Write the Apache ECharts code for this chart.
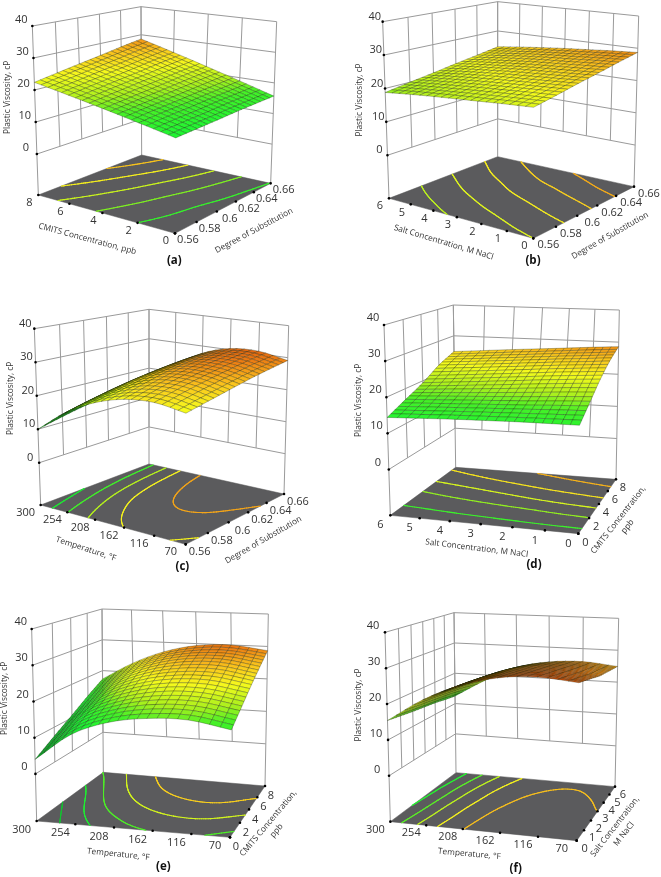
<!DOCTYPE html>
<html><head><meta charset="utf-8"><style>html,body{margin:0;padding:0;background:#fff}#c{width:661px;height:877px}</style>
<script src="https://cdn.jsdelivr.net/npm/echarts@6/dist/echarts.min.js"></script></head>
<body><div id="c"></div><script>
// ---------- tick labels ----------
const degreeTicks = ['0.56','0.58','0.6','0.62','0.64','0.66'];
const cmitsTicks = ['0','2','4','6','8'];
const saltTicks = ['0','1','2','3','4','5','6'];
const tempTicks = ['70','116','162','208','254','300'];
const viscosityTicks = [0,10,20,30,40];
// ---------- surface heights (cP) read at the axis tick crossings; row = left-hand axis, column = right-hand axis ----------
const surfaceA = [
 [13.6,14.0,14.4,14.9,15.3,15.7],
 [15.8,16.5,17.0,17.7,18.3,18.9],
 [18.0,18.8,19.6,20.4,21.3,22.1],
 [20.2,21.2,22.2,23.2,24.3,25.3],
 [22.4,23.6,24.8,26.0,27.3,28.5]];
const surfaceB = [
 [22.0,23.3,24.7,26.0,27.4,28.7],
 [21.6,22.9,24.2,25.5,26.9,28.2],
 [21.1,22.4,23.7,25.0,26.3,27.6],
 [20.6,21.9,23.2,24.5,25.8,27.0],
 [20.1,21.3,22.6,23.8,25.1,26.3],
 [19.5,20.7,21.9,23.1,24.3,25.5],
 [18.8,20.0,21.1,22.3,23.4,24.6]];
const surfaceC = [
 [22.6,24.0,25.4,26.8,28.0,29.1],
 [24.0,25.8,27.3,28.6,29.8,30.8],
 [23.4,25.4,27.2,28.6,29.6,30.4],
 [20.9,22.8,24.6,25.9,26.9,27.6],
 [16.5,18.2,19.7,20.8,21.5,22.0],
 [10.0,11.7,13.2,14.3,15.0,15.5]];
const surfaceD = [
 [15.0,18.8,22.7,26.0,28.6],
 [15.0,18.5,22.3,25.5,28.1],
 [15.0,18.1,21.8,25.0,27.5],
 [14.9,17.8,21.2,24.4,26.9],
 [14.8,17.5,20.6,23.8,26.3],
 [14.6,17.2,20.0,23.2,25.6],
 [14.4,16.9,19.4,22.6,24.9]];
const surfaceE = [
 [15.8,19.4,22.9,25.9,28.7],
 [17.7,21.2,24.7,27.6,30.0],
 [17.4,21.0,24.4,27.2,29.4],
 [15.6,19.0,22.3,25.0,27.0],
 [11.6,15.0,18.0,20.7,22.9],
 [4.0,7.5,10.8,14.2,17.3]];
const surfaceF = [
 [29.1,28.2,27.3,26.4,25.9,25.4,24.9],
 [30.0,29.3,28.6,27.9,27.2,26.5,25.9],
 [29.1,28.5,27.9,27.3,26.7,26.0,25.3],
 [26.3,25.9,25.5,25.0,24.5,23.8,23.0],
 [21.8,21.3,20.9,20.4,19.9,19.2,18.3],
 [15.4,14.9,14.4,14.0,13.6,13.0,12.5]];
// ---------- contour levels on the floor (cP) ----------
const contoursA = [15.8,18.4,21,23.6,26.2];
const contoursB = [20.4,22,23.8,25.6,27.3];
const contoursC = [13,16.6,20,23.4,27.6];
const contoursD = [16.2,18.9,21.6,24.3,27];
const contoursE = [8.8,13.5,17.2,21.4,25.6];
const contoursF = [14.5,17.5,20.4,23.4,26.4];

// ---------- layout: coordinates of the box corners, measured on 3x crops ----------
const FONT = '"Open Sans","Noto Sans",sans-serif';
const panels = [
 {tag:'(a)',tagAt:[523,783],org:[0,0],table:surfaceA,levels:contoursA,uTicks:cmitsTicks,vTicks:degreeTicks,
  F:[525,700],L:[115,585],B:[425,465],R:[812,550],Lt:[97,78],Bt:[423,20],Rt:[830,65],zf:-12.8,tint:0,
  uOff:[-9,8],vOff:[13,7],zOff:[-11,-6],
  titles:[['Plastic Viscosity, cP',22,292,90],['CMITS Concentration, ppb',262,717,-15],['Degree of Substitution',762,692,28]]},
 {tag:'(b)',tagAt:[609,783],org:[330,0],table:surfaceB,levels:contoursB,uTicks:saltTicks,vTicks:degreeTicks,
  F:[610,715],L:[177,595],B:[503,470],R:[912,560],Lt:[158,65],Bt:[503,5],Rt:[926,48],zf:-12.9,tint:0,
  uOff:[-9,8],vOff:[15,7],zOff:[-8,-5],
  titles:[['Plastic Viscosity, cP',88,300,90],['Salt Concentration, M NaCl',341,727,-16.8],['Degree of Substitution',840,707,29.6]]},
 {tag:'(c)',tagAt:[547,815],org:[0,295],table:surfaceC,levels:contoursC,uTicks:tempTicks,vTicks:degreeTicks,
  F:[557,748],L:[122,630],B:[447,507],R:[852,597],Lt:[103,101],Bt:[447,43],Rt:[866,92],zf:-12.6,tint:0,
  uOff:[-15,8],vOff:[14,8],zOff:[-9,-5],
  titles:[['Plastic Viscosity, cP',32,310,90],['Temperature, °F',258,762,-18],['Degree of Substitution',790,735,30]]},
 {tag:'(d)',tagAt:[612,810],org:[330,295],table:surfaceD,levels:contoursD,uTicks:saltTicks,vTicks:cmitsTicks,
  F:[745,716],L:[181,661],B:[377,517],R:[858,553],Lt:[162,90],Bt:[370,30],Rt:[868,45],zf:-12.7,tint:0,
  uOff:[-10,10],vOff:[7,9],zOff:[-11,-7],
  titles:[['Plastic Viscosity, cP',85,316,90],['Salt Concentration, M NaCl',440,760,-7],['CMITS Concentration,',865,675,52],['ppb',893,695,52]]},
 {tag:'(e)',tagAt:[490,830],org:[0,590],table:surfaceE,levels:contoursE,uTicks:tempTicks,vTicks:cmitsTicks,
  F:[690,742],L:[110,693],B:[310,547],R:[795,588],Lt:[95,117],Bt:[306,57],Rt:[805,72],zf:-13,tint:0,
  uOff:[-15,9],vOff:[6,10],zOff:[-11,-7],
  titles:[['Plastic Viscosity, cP',15,325,90],['Temperature, °F',355,793,-6],['CMITS Concentration,',805,700,50],['ppb',830,722,50]]},
 {tag:'(f)',tagAt:[557,835],org:[330,590],table:surfaceF,levels:contoursF,uTicks:tempTicks,vTicks:saltTicks,
  F:[740,752],L:[181,695],B:[378,548],R:[855,590],Lt:[165,127],Bt:[372,68],Rt:[866,85],zf:-12.8,tint:2.5,
  uOff:[-15,8],vOff:[8,8],zOff:[-12,-6],
  titles:[['Plastic Viscosity, cP',85,345,90],['Temperature, °F',418,792,-5],['Salt Concentration,',855,710,52],['M NaCl',882,732,52]]}
];
const colorStops = [[4,[12,150,36]],[8,[16,190,48]],[14,[32,245,50]],[17,[70,240,40]],[19.5,[170,240,30]],[23,[245,250,30]],[26,[250,200,30]],[29.5,[236,124,20]],[32,[214,84,14]]];
const MESH = 20, CONTOUR_RES = 90;

// ---------- helpers ----------
function colorAt(z){
  if(z<=colorStops[0][0]) return rgb(colorStops[0][1]);
  for(let i=1;i<colorStops.length;i++){
    if(z<=colorStops[i][0]){
      const a=colorStops[i-1],b=colorStops[i],t=(z-a[0])/(b[0]-a[0]);
      return rgb(a[1].map((c,k)=>c+(b[1][k]-c)*t));
    }
  }
  return rgb(colorStops[colorStops.length-1][1]);
}
function rgb(c){return 'rgb('+c.map(Math.round).join(',')+')';}
function homography(F,L,R,B){
  const d1=[L[0]-B[0],L[1]-B[1]],d2=[R[0]-B[0],R[1]-B[1]],s=[F[0]-L[0]+B[0]-R[0],F[1]-L[1]+B[1]-R[1]];
  const D=d1[0]*d2[1]-d1[1]*d2[0];
  const g=(s[0]*d2[1]-s[1]*d2[0])/D,h=(d1[0]*s[1]-d1[1]*s[0])/D;
  const a=[L[0]-F[0]+g*L[0],L[1]-F[1]+g*L[1]],b=[R[0]-F[0]+h*R[0],R[1]-F[1]+h*R[1]];
  const f=(u,v)=>{const w=g*u+h*v+1;return [(a[0]*u+b[0]*v+F[0])/w,(a[1]*u+b[1]*v+F[1])/w];};
  f.weight=(u,v)=>g*u+h*v+1;
  return f;
}
function makeProjector(p){
  const [ox,oy]=p.org;
  const P=q=>[ox+q[0]/3,oy+q[1]/3];
  const F=P(p.F),L=P(p.L),B=P(p.B),R=P(p.R),Lt=P(p.Lt),Bt=P(p.Bt),Rt=P(p.Rt);
  const floor=homography(F,L,R,B);
  const H=((L[1]-Lt[1])*floor.weight(1,0)+(R[1]-Rt[1])*floor.weight(0,1)+(B[1]-Bt[1])*floor.weight(1,1))/3;
  const sl=(L[0]-Lt[0])/(L[1]-Lt[1]),sr=(R[0]-Rt[0])/(R[1]-Rt[1]);
  let Ft=[F[0],F[1]-H];
  if(Math.abs(sl-sr)>1e-4){
    const vy=(R[0]-L[0]+sl*L[1]-sr*R[1])/(sl-sr),vx=L[0]+sl*(vy-L[1]);
    Ft=[F[0]-(vx-F[0])/(vy-F[1])*H,F[1]-H];
  }
  const top=homography(Ft,Lt,Rt,Bt);
  return (u,v,z)=>{
    const W=(z-p.zf)/(40-p.zf),a=floor(u,v),b=top(u,v);
    return [a[0]+(b[0]-a[0])*W,a[1]+(b[1]-a[1])*W];
  };
}
// smooth surface through the table values, used to draw the fine mesh
function cr(a,b,c,d,t){return b+0.5*t*(c-a+t*(2*a-5*b+4*c-d+t*(3*(b-c)+d-a)));}
function sampler(T){
  const nu=T.length,nv=T[0].length;
  const at=(i,j)=>{
    if(i<0) return 2*at(0,j)-at(1,j);
    if(i>=nu) return 2*at(nu-1,j)-at(nu-2,j);
    if(j<0) return 2*at(i,0)-at(i,1);
    if(j>=nv) return 2*at(i,nv-1)-at(i,nv-2);
    return T[i][j];
  };
  return (u,v)=>{
    const x=u*(nu-1),y=v*(nv-1);
    const i=Math.min(Math.floor(x),nu-2),j=Math.min(Math.floor(y),nv-2),tx=x-i,ty=y-j;
    const col=[];
    for(let k=-1;k<=2;k++) col.push(cr(at(i+k,j-1),at(i+k,j),at(i+k,j+1),at(i+k,j+2),ty));
    return cr(col[0],col[1],col[2],col[3],tx);
  };
}

// ---------- build marks ----------
const polys=[],floors=[],lines=[],dots=[],texts=[],contourSegs=[];
panels.forEach(p=>{
  const proj=makeProjector(p),zAt=sampler(p.table);
  const [ox,oy]=p.org;
  const nU=p.uTicks.length,nV=p.vTicks.length;
  const seg=(a,b)=>lines.push({a,b});
  viscosityTicks.forEach(z=>{seg(proj(1,0,z),proj(1,1,z));seg(proj(1,1,z),proj(0,1,z));});
  for(let j=0;j<nV;j++){const v=j/(nV-1);seg(proj(1,v,(j===0||j===nV-1)?p.zf:0),proj(1,v,40));}
  for(let i=0;i<nU;i++){const u=i/(nU-1);seg(proj(u,1,(i===0)?p.zf:0),proj(u,1,40));}
  floors.push([proj(0,0,p.zf),proj(1,0,p.zf),proj(1,1,p.zf),proj(0,1,p.zf)]);
  const N=CONTOUR_RES,grid=[];
  for(let i=0;i<=N;i++){grid.push([]);for(let j=0;j<=N;j++)grid[i].push(zAt(i/N,j/N));}
  p.levels.forEach(lv=>{
    const col=colorAt(lv),cut=(a,b)=>(lv-a)/(b-a);
    for(let i=0;i<N;i++)for(let j=0;j<N;j++){
      const a=grid[i][j],b=grid[i+1][j],c=grid[i+1][j+1],d=grid[i][j+1];
      const pts=[];
      if((a<lv)!==(b<lv)) pts.push([(i+cut(a,b))/N,j/N]);
      if((b<lv)!==(c<lv)) pts.push([(i+1)/N,(j+cut(b,c))/N]);
      if((d<lv)!==(c<lv)) pts.push([(i+cut(d,c))/N,(j+1)/N]);
      if((a<lv)!==(d<lv)) pts.push([i/N,(j+cut(a,d))/N]);
      if(pts.length>=2) contourSegs.push({a:proj(pts[0][0],pts[0][1],p.zf),b:proj(pts[1][0],pts[1][1],p.zf),col});
    }
  });
  for(let i=MESH-1;i>=0;i--)for(let j=MESH-1;j>=0;j--){
    const c=[[i,j],[i+1,j],[i+1,j+1],[i,j+1]].map(q=>[q[0]/MESH,q[1]/MESH]);
    const zs=c.map(q=>zAt(q[0],q[1]));
    polys.push({pts:c.map((q,k)=>proj(q[0],q[1],zs[k])),col:colorAt((zs[0]+zs[1]+zs[2]+zs[3])/4+p.tint)});
  }
  viscosityTicks.forEach(z=>{const q=proj(1,0,z);dots.push(q);texts.push({t:String(z),x:q[0]+p.zOff[0],y:q[1]+p.zOff[1],fs:11});});
  p.uTicks.forEach((t,i)=>{const q=proj(i/(nU-1),0,p.zf);dots.push(q);texts.push({t,x:q[0]+p.uOff[0],y:q[1]+p.uOff[1],fs:11});});
  p.vTicks.forEach((t,j)=>{const q=proj(0,j/(nV-1),p.zf);dots.push(q);texts.push({t,x:q[0]+p.vOff[0],y:q[1]+p.vOff[1],fs:11});});
  p.titles.forEach(s=>texts.push({t:s[0],x:ox+s[1]/3,y:oy+s[2]/3,rot:s[3],fs:8.3}));
  texts.push({t:p.tag,x:ox+p.tagAt[0]/3,y:oy+p.tagAt[1]/3,fs:11.5,bold:true});
});

function layer(name,items,draw){
  return {type:'custom',name,coordinateSystem:'cartesian2d',silent:true,animation:false,clip:false,progressive:0,
    data:items.map((_,i)=>[i,i]),encode:{x:0,y:1},
    renderItem:(params,api)=>draw(items[params.dataIndex],api)};
}
const c2=(api,q)=>api.coord(q);
const option={
  animation:false,backgroundColor:'#fff',
  grid:{left:0,right:0,top:0,bottom:0},
  xAxis:{type:'value',min:0,max:661,show:false},
  yAxis:{type:'value',min:0,max:877,inverse:true,show:false},
  series:[
    layer('walls',lines,(d,api)=>{const a=c2(api,d.a),b=c2(api,d.b);
      return {type:'line',shape:{x1:a[0],y1:a[1],x2:b[0],y2:b[1]},style:{stroke:'#9a9a9a',lineWidth:1}};}),
    layer('floor',floors,(d,api)=>({type:'polygon',shape:{points:d.map(q=>c2(api,q))},style:{fill:'#5b5b5d',stroke:'#555',lineWidth:.5}})),
    layer('contours',contourSegs,(d,api)=>{const a=c2(api,d.a),b=c2(api,d.b);
      return {type:'line',shape:{x1:a[0],y1:a[1],x2:b[0],y2:b[1]},style:{stroke:d.col,lineWidth:1.1,lineCap:'round'}};}),
    layer('dots',dots,(d,api)=>{const a=c2(api,d);return {type:'circle',shape:{cx:a[0],cy:a[1],r:1.3},style:{fill:'#000'}};}),
    layer('surface',polys,(d,api)=>({type:'polygon',shape:{points:d.pts.map(q=>c2(api,q))},style:{fill:d.col,stroke:'rgba(15,25,5,0.5)',lineWidth:.55}})),
    layer('labels',texts,(d,api)=>{const a=c2(api,[d.x,d.y]);
      return {type:'text',x:a[0],y:a[1],rotation:(d.rot||0)*Math.PI/180,
        style:{text:d.t,x:0,y:0,align:'center',verticalAlign:'middle',fontFamily:FONT,fontSize:d.fs,fontWeight:d.bold?'bold':'normal',fill:d.bold?'#111':'#333'}};})
  ]
};
echarts.init(document.getElementById('c'),null,{renderer:'canvas'}).setOption(option);
</script></body></html>
